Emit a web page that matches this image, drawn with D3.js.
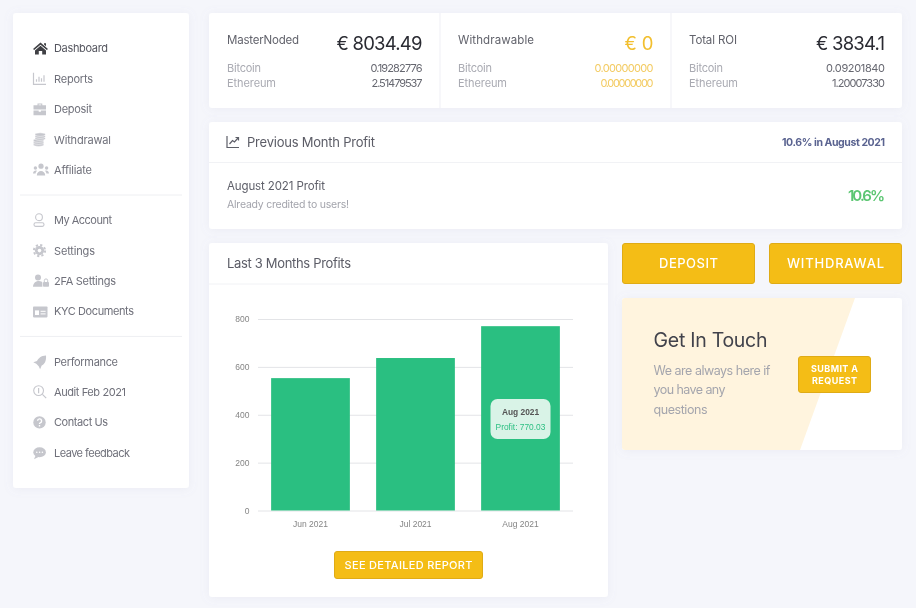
<!DOCTYPE html>
<html><head><meta charset="utf-8">
<script src="https://cdn.jsdelivr.net/npm/d3@7/dist/d3.min.js"></script>
<style>
html,body{margin:0;padding:0;background:#f5f6fb;overflow:hidden}
svg{display:block}
text{font-family:Inter,"Noto Sans",sans-serif}
.axis text{font-family:"Liberation Sans",Arial,sans-serif}
</style></head><body><div id="app"></div>
<script>
// ---- data ----
const months = ["Jun 2021","Jul 2021","Aug 2021"];
const profits = [553, 637, 770.03];
const yTicks = [0,200,400,600,800];
const navGroups = [
  [["home","Dashboard",54],["reports","Reports",39],["deposit","Deposit",38],["coins","Withdrawal",57],["users","Affiliate",38]],
  [["user","My Account",58],["gear","Settings",41],["lock","2FA Settings",62],["card","KYC Documents",80]],
  [["rocket","Performance",64],["search","Audit Feb 2021",72],["help","Contact Us",54],["chat","Leave feedback",76]]
];
const statTitles = ["MasterNoded","Withdrawable","Total ROI"];
const statTotals = ["€ 8034.49","€ 0","€ 3834.1"];
const bitcoinVals = ["0.19282776","0.00000000","0.09201840"];
const ethereumVals = ["2.51479537","0.00000000","1.20007330"];

// ---- page ----
const W=916,H=608;
const svg=d3.select("#app").append("svg").attr("width",W).attr("height",H).attr("viewBox",[0,0,W,H]);
const defs=svg.append("defs");
const sh=defs.append("filter").attr("id","sh").attr("x","-10%").attr("y","-10%").attr("width","120%").attr("height","120%");
sh.append("feDropShadow").attr("dx",0).attr("dy",1).attr("stdDeviation",5).attr("flood-color","#8a90b8").attr("flood-opacity",.10);
const soft=defs.append("filter").attr("id","soft").attr("x","-2%").attr("y","-2%").attr("width","104%").attr("height","104%");
soft.append("feGaussianBlur").attr("stdDeviation",.32);
const root=svg.append("g").attr("filter","url(#soft)");
root.append("rect").attr("width",W).attr("height",H).attr("fill","#f5f6fb");

function panel(x,y,w,h){return root.append("rect").attr("x",x).attr("y",y).attr("width",w).attr("height",h).attr("rx",3).attr("fill","#fff").attr("filter","url(#sh)");}
function rule(x1,x2,y1,y2,c="#f1f2f5",sw=1){root.append("line").attr("x1",x1).attr("x2",x2).attr("y1",y1).attr("y2",y2).attr("stroke",c).attr("stroke-width",sw);}
function label(s,x,y,size,color,o={}){
  const t=(o.g||root).append("text").attr("x",x).attr("y",y).attr("font-size",size).attr("fill",color)
    .attr("font-weight",o.weight||400).attr("text-anchor",o.anchor||"start").text(s);
  if(o.w) t.attr("textLength",o.w).attr("lengthAdjust","spacing");
  return t;
}
function button(s,x,y,w,h,size,tw){
  root.append("rect").attr("x",x+.5).attr("y",y+.5).attr("width",w-1).attr("height",h-1).attr("rx",2.5).attr("fill","#f4bd15").attr("stroke","#dfab16");
  label(s,x+w/2,y+h/2+size*.36,size,"#fff",{anchor:"middle",weight:500,w:tw});
}

// ---- icons ----
const ICON={
 home:g=>{g.append("path").attr("d","M7.5 1.2 L15 7.6 L13.8 8.6 L7.5 3.4 L1.2 8.6 L0 7.6Z M7.5 4.4 L13 9 L13 13 L9.2 13 L9.2 9.6 L5.8 9.6 L5.8 13 L2 13 L2 9Z M11 1.8h2v3l-2-1.6Z");},
 reports:g=>{g.append("path").attr("d","M.5 1v11.5H13M3.5 10V7.5M6 10V5M8.5 10V6.5M11 10V3.5").attr("fill","none").attr("stroke","currentColor").attr("stroke-width",1.2);},
 deposit:g=>{g.append("path").attr("d","M4.5 3V1.2h4.8V3H13v4.4H.5V3Zm1.1 0h2.6V2.2H5.6ZM.5 8.4h5.2v1.2h2.2V8.4H13V13H.5Z");},
 coins:g=>{[12,10,8,6,4,2].forEach((cy,i)=>g.append("ellipse").attr("cx",i<3?5.6:7.2).attr("cy",cy).attr("rx",i<3?5.4:5.2).attr("ry",1.8).attr("stroke","#fff").attr("stroke-width",.5));},
 users:g=>{[[8,3.2,2.6],[2.4,5,1.7],[13.6,5,1.7]].forEach(a=>g.append("circle").attr("cx",a[0]).attr("cy",a[1]).attr("r",a[2]));
   g.append("path").attr("d","M3.8 12.5c0-6 8.4-6 8.4 0ZM0 10.5c0-3 3-3.6 4-2.6-1 .8-1.4 1.6-1.4 2.6ZM16 10.5c0-3-3-3.6-4-2.6 1 .8 1.4 1.6 1.4 2.6Z");},
 user:g=>{g.append("circle").attr("cx",6).attr("cy",4).attr("r",3.4).attr("fill","none").attr("stroke","currentColor").attr("stroke-width",1.1);
   g.append("rect").attr("x",1).attr("y",9.6).attr("width",10).attr("height",3.6).attr("rx",1.6).attr("fill","none").attr("stroke","currentColor").attr("stroke-width",1.1);},
 gear:g=>{g.append("circle").attr("cx",6.5).attr("cy",7).attr("r",4.6);g.append("circle").attr("cx",6.5).attr("cy",7).attr("r",5.6).attr("fill","none").attr("stroke","currentColor").attr("stroke-width",2).attr("stroke-dasharray","2.2 2.2");g.append("circle").attr("cx",6.5).attr("cy",7).attr("r",1.8).attr("fill","#fff");},
 lock:g=>{g.append("circle").attr("cx",5).attr("cy",3.6).attr("r",3);g.append("path").attr("d","M0 12.8c0-7 9-7 9.4-4v4Z");g.append("rect").attr("x",10).attr("y",8).attr("width",6).attr("height",4.8).attr("rx",.8);g.append("path").attr("d","M11.3 8V6.6a1.7 1.7 0 0 1 3.4 0V8").attr("fill","none").attr("stroke","currentColor");},
 card:g=>{g.append("rect").attr("x",0).attr("y",2).attr("width",14.5).attr("height",11).attr("rx",.8);g.append("rect").attr("x",2).attr("y",6).attr("width",4).attr("height",4.6).attr("fill","#fff");g.append("rect").attr("x",7.6).attr("y",6.4).attr("width",5).attr("height",1).attr("fill","#fff");g.append("rect").attr("x",7.6).attr("y",9).attr("width",5).attr("height",1).attr("fill","#fff");},
 rocket:g=>{g.append("path").attr("d","M13 .8c-5 .2-7.6 2.8-9 5.6L.3 7.6l3 1.6 2.4 2.4 1.4 3 1.6-3.6c2.8-1.6 4.8-4.4 4.3-10.2Z");},
 search:g=>{g.append("circle").attr("cx",5.6).attr("cy",5.6).attr("r",4.9).attr("fill","none").attr("stroke","currentColor").attr("stroke-width",1.1);g.append("path").attr("d","M9.4 9.4l3.8 3.8M5.6 3v5.2").attr("stroke","currentColor").attr("stroke-width",1.2);},
 help:g=>{g.append("circle").attr("cx",6.5).attr("cy",7).attr("r",6.2);g.append("path").attr("d","M4.6 5.4a2 2 0 1 1 2.6 2c-.6.2-.7.6-.7 1.2M6.5 9.6v1.4").attr("fill","none").attr("stroke","#fff").attr("stroke-width",1.4);},
 chat:g=>{g.append("ellipse").attr("cx",6.6).attr("cy",6.4).attr("rx",6.3).attr("ry",5);g.append("path").attr("d","M2.6 9.6L1 13.4 6 11Z");[3.8,6.6,9.4].forEach(x=>g.append("circle").attr("cx",x).attr("cy",6.4).attr("r",.8).attr("fill","#fff"));}
};
function icon(name,x,cy,color){const g=root.append("g").attr("transform",`translate(${x},${cy-7})`).attr("fill",color).style("color",color);ICON[name](g);}

// ---- sidebar ----
panel(13,13,176,475);
const rowStep=30.4;
let navY=48.4;
navGroups.forEach((grp,gi)=>{
  grp.forEach((it,i)=>{
    const y=navY+i*rowStep, active=gi===0&&i===0;
    icon(it[0],33,y,active?"#3f4044":"#c6c7cd");
    label(it[1],54,y+4,11,active?"#55565f":"#6f707a",{w:it[2]});
  });
  const last=navY+(grp.length-1)*rowStep;
  if(gi<2) rule(20,182,last+25,last+25,"#eeeff2");
  navY=last+50.2;
});

// ---- stats ----
panel(209,13,693,95);
[440,671].forEach(x=>rule(x,x,13,108,"#f4f5f8",1.5));
const statX=[227,458,689], statR=[422.5,653.5,885];
const titleW=[72,76,48], totalW=[86,29,69];
const valCol=["#666770","#f3cb62","#666770"];
statTitles.forEach((t,i)=>{
  label(t,statX[i],44,11.5,"#62636c",{w:titleW[i]});
  label(statTotals[i],statR[i],49.5,18.5,i===1?"#f2bf2f":"#2b2c33",{anchor:"end",w:totalW[i]});
  label("Bitcoin",statX[i],72,11,"#a9aab2",{w:34});
  label("Ethereum",statX[i],87,11,"#a9aab2",{w:49});
  label(bitcoinVals[i],statR[i],72,11,valCol[i],{anchor:"end",w:i===0?52:59});
  label(ethereumVals[i],statR[i],87,11,valCol[i],{anchor:"end",w:i===0?51:53});
});

// ---- previous month ----
panel(209,122,693,107);
rule(209,902,162.5,162.5);
root.append("path").attr("d","M227 136v11.5h12M229.5 144l3-3.5 2 1.5 3.5-4M235.5 137.5h3v3").attr("fill","none").attr("stroke","#5d5e68").attr("stroke-width",1.2);
label("Previous Month Profit",247,146.5,13,"#5b5c66",{w:128});
label("10.6% in August 2021",885,145.5,10.5,"#5a6390",{anchor:"end",weight:700,w:103});
label("August 2021 Profit",227,190,11.5,"#5f606a",{w:98});
label("Already credited to users!",227,208,10.5,"#a3a4ac",{w:122});
label("10.6%",885,201,15,"#5cc672",{anchor:"end",weight:600,w:37});

// ---- bar chart ----
panel(209,243,399,354);
rule(209,608,284,284);
label("Last 3 Months Profits",227,268,13,"#5b5c66",{w:124});
const x=d3.scaleBand().domain(months).range([258,573]).paddingInner(.25).paddingOuter(.125);
const y=d3.scaleLinear().domain([0,800]).range([510.5,319]);
const chart=root.append("g");
const yAxis=chart.append("g").attr("class","axis").attr("transform","translate(258,0)")
  .call(d3.axisLeft(y).tickValues(yTicks).tickSize(-315).tickPadding(8.5));
yAxis.select(".domain").remove();
yAxis.selectAll("line").attr("stroke","#e3e4e7");
yAxis.selectAll("text").attr("fill","#858585").attr("font-size",8.5);
chart.selectAll("rect.bar").data(profits).join("rect").attr("class","bar")
  .attr("x",(d,i)=>x(months[i])).attr("width",x.bandwidth())
  .attr("y",d=>y(d)).attr("height",d=>y(0)-y(d)).attr("fill","#2cbf81");
const xAxis=chart.append("g").attr("class","axis").attr("transform","translate(0,510.5)")
  .call(d3.axisBottom(x).tickSize(0).tickPadding(10));
xAxis.select(".domain").remove();
xAxis.selectAll("text").attr("fill","#858585").attr("font-size",8.5);
// tooltip on the last bar
const lastI=months.length-1, tipCx=x(months[lastI])+x.bandwidth()/2;
chart.append("rect").attr("x",tipCx-30).attr("y",399).attr("width",60).attr("height",40).attr("rx",7).attr("fill","#d9f3e7");
chart.append("text").attr("x",tipCx).attr("y",415).attr("text-anchor","middle").attr("font-size",8.4).attr("font-weight",700).attr("fill","#555").style("font-family","'Liberation Sans',Arial,sans-serif").text(months[lastI]);
chart.append("text").attr("x",tipCx).attr("y",430).attr("text-anchor","middle").attr("font-size",8.4).attr("fill","#2fc084").style("font-family","'Liberation Sans',Arial,sans-serif").text("Profit: "+profits[lastI].toFixed(2));
button("SEE DETAILED REPORT",334,551,149,28,11,128);

// ---- action buttons ----
button("DEPOSIT",622,243,133,41,13,59);
button("WITHDRAWAL",769,243,133,41,13,97);

// ---- get in touch ----
panel(622,298,280,152);
const clip=defs.append("clipPath").attr("id","c");
clip.append("rect").attr("x",622).attr("y",298).attr("width",280).attr("height",152).attr("rx",3);
root.append("path").attr("d",d3.line()([[622,298],[855,298],[800,450],[622,450]])+"Z").attr("fill","#fff4de").attr("clip-path","url(#c)");
label("Get In Touch",653.5,346.5,19.5,"#42434c",{w:114});
["We are always here if","you have any","questions"].forEach((s,i)=>label(s,653.5,375+i*19.3,12.5,"#a4a5ad",{w:[117,72,54][i]}));
root.append("rect").attr("x",798.5).attr("y",356.5).attr("width",72).attr("height",36).attr("rx",2.5).attr("fill","#f4bd15").attr("stroke","#dfab16");
label("SUBMIT A",834.5,372,9,"#fff",{anchor:"middle",weight:700,w:47});
label("REQUEST",834.5,384,9,"#fff",{anchor:"middle",weight:700,w:45});
</script></body></html>
